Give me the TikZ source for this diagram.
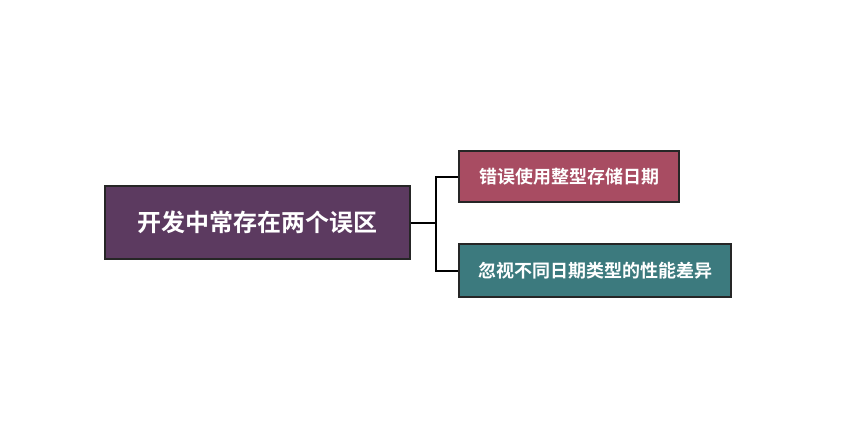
\documentclass[tikz,border=0pt]{standalone}
\usepackage{fontspec}
\newfontfamily\cjk{Noto Sans CJK SC}[UprightFont={* Bold}]
\begin{document}
\begin{tikzpicture}[x=1pt, y=-1pt,
    box/.style={draw=black!85, line width=1.6pt, text=white, inner sep=0pt},
    branch/.style={black, line width=2pt}]
    \useasboundingbox (0, 0) rectangle (846, 433);
    \node[box, fill={rgb,255:red,92;green,58;blue,96}, minimum width=305pt, minimum height=73pt, font=\cjk\fontsize{24}{28}\selectfont] (root) at (257.5, 222.5) {开发中常存在两个误区};
    \node[box, fill={rgb,255:red,168;green,76;blue,98}, minimum width=220pt, minimum height=51pt, font=\cjk\fontsize{18}{22}\selectfont] (wrongint) at (569, 176.5) {错误使用整型存储日期};
    \node[box, fill={rgb,255:red,60;green,122;blue,126}, minimum width=272pt, minimum height=53pt, font=\cjk\fontsize{18}{22}\selectfont] (perfdiff) at (595, 270.5) {忽视不同日期类型的性能差异};
    \coordinate (fork) at (436, 222.5);
    \draw[branch] (root.east) -- (fork);
    \draw[branch] (fork) |- (wrongint.west);
    \draw[branch] (fork) |- (perfdiff.west);
\end{tikzpicture}
\end{document}
